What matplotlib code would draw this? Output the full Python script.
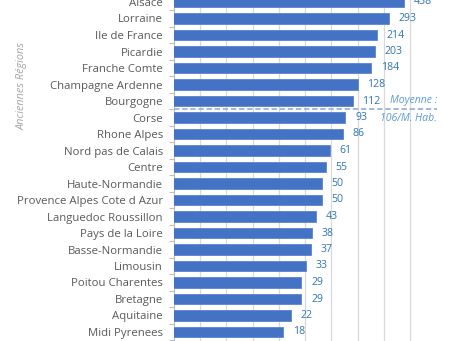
import matplotlib
matplotlib.use("Agg")
import matplotlib.pyplot as plt
from matplotlib.ticker import FixedLocator, NullFormatter
import numpy as np

# Donnees
regions = ["Alsace", "Lorraine", "Ile de France", "Picardie", "Franche Comte",
           "Champagne Ardenne", "Bourgogne", "Corse", "Rhone Alpes",
           "Nord pas de Calais", "Centre", "Haute-Normandie",
           "Provence Alpes Cote d Azur", "Languedoc Roussillon",
           "Pays de la Loire", "Basse-Normandie", "Limousin",
           "Poitou Charentes", "Bretagne", "Aquitaine", "Midi Pyrenees"]
valeurs = [438, 293, 214, 203, 184, 128, 112, 93, 86, 61, 55, 50, 50, 43,
           38, 37, 33, 29, 29, 22, 18]
moyenne_texte = ["Moyenne :", "106/M. Hab."]

plt.rcParams['font.family'] = ['Open Sans', 'DejaVu Sans']

fig = plt.figure(figsize=(4.54, 3.41), dpi=100)
W, H = 454, 341
x0, x1 = 174, 410
y_top, y_bot = -6.25, 340.25
ax = fig.add_axes([x0 / W, (H - y_bot) / H, (x1 - x0) / W, (y_bot - y_top) / H])

y = np.arange(len(regions))
ax.barh(y, valeurs, height=0.64, color='#4472C4', edgecolor='#5B85D0',
        linewidth=0.6, zorder=3, left=0)
ax.set_xscale('log', base=2)
ax.set_xlim(1, 512)
ax.set_ylim(len(regions) - 0.5, -0.5)

ax.xaxis.set_major_locator(FixedLocator([2 ** k for k in range(1, 10)]))
ax.xaxis.set_minor_locator(FixedLocator([]))
ax.xaxis.set_major_formatter(NullFormatter())
ax.tick_params(axis='x', length=0)
ax.grid(axis='x', color='#D9D9D9', linewidth=0.9, zorder=0, clip_on=False)

ax.set_yticks(y)
ax.set_yticklabels(regions, fontsize=8.2, color='#595959')
ax.tick_params(axis='y', which='major', length=0, pad=8)
ax.set_yticks(np.arange(-0.5, len(regions) + 0.5, 1), minor=True)
ax.tick_params(axis='y', which='minor', length=3.5, color='#BFBFBF', width=0.8)

for s in ['top', 'right', 'bottom']:
    ax.spines[s].set_visible(False)
ax.spines['left'].set_color('#BFBFBF')
ax.spines['left'].set_linewidth(0.8)

for yi, v in zip(y, valeurs):
    ax.annotate(str(v), (v, yi), xytext=(7, 0), textcoords='offset points',
                va='center', ha='left', fontsize=7.6, color='#2E75B6')

# ligne de la moyenne entre Bourgogne et Corse
ax.plot([0, (437 - x0) / (x1 - x0)], [6.5, 6.5], transform=ax.get_yaxis_transform(),
        linestyle=(0, (3, 1.5)), color='#9DB3DD', linewidth=1.3, clip_on=False, zorder=4)
ax.text((437 - x0) / (x1 - x0), 6.0, moyenne_texte[0], transform=ax.get_yaxis_transform(),
        ha='right', va='center', fontsize=7.6, style='italic', color='#5B9BD5')
ax.text((437 - x0) / (x1 - x0), 7.05, moyenne_texte[1], transform=ax.get_yaxis_transform(),
        ha='right', va='center', fontsize=7.6, style='italic', color='#5B9BD5')

fig.text(22 / W, 1 - 86 / H, "Anciennes Régions", rotation=90, ha='center', va='center',
         fontsize=7.8, style='italic', color='#A6A6A6')

fig.savefig("out.png", dpi=100)
